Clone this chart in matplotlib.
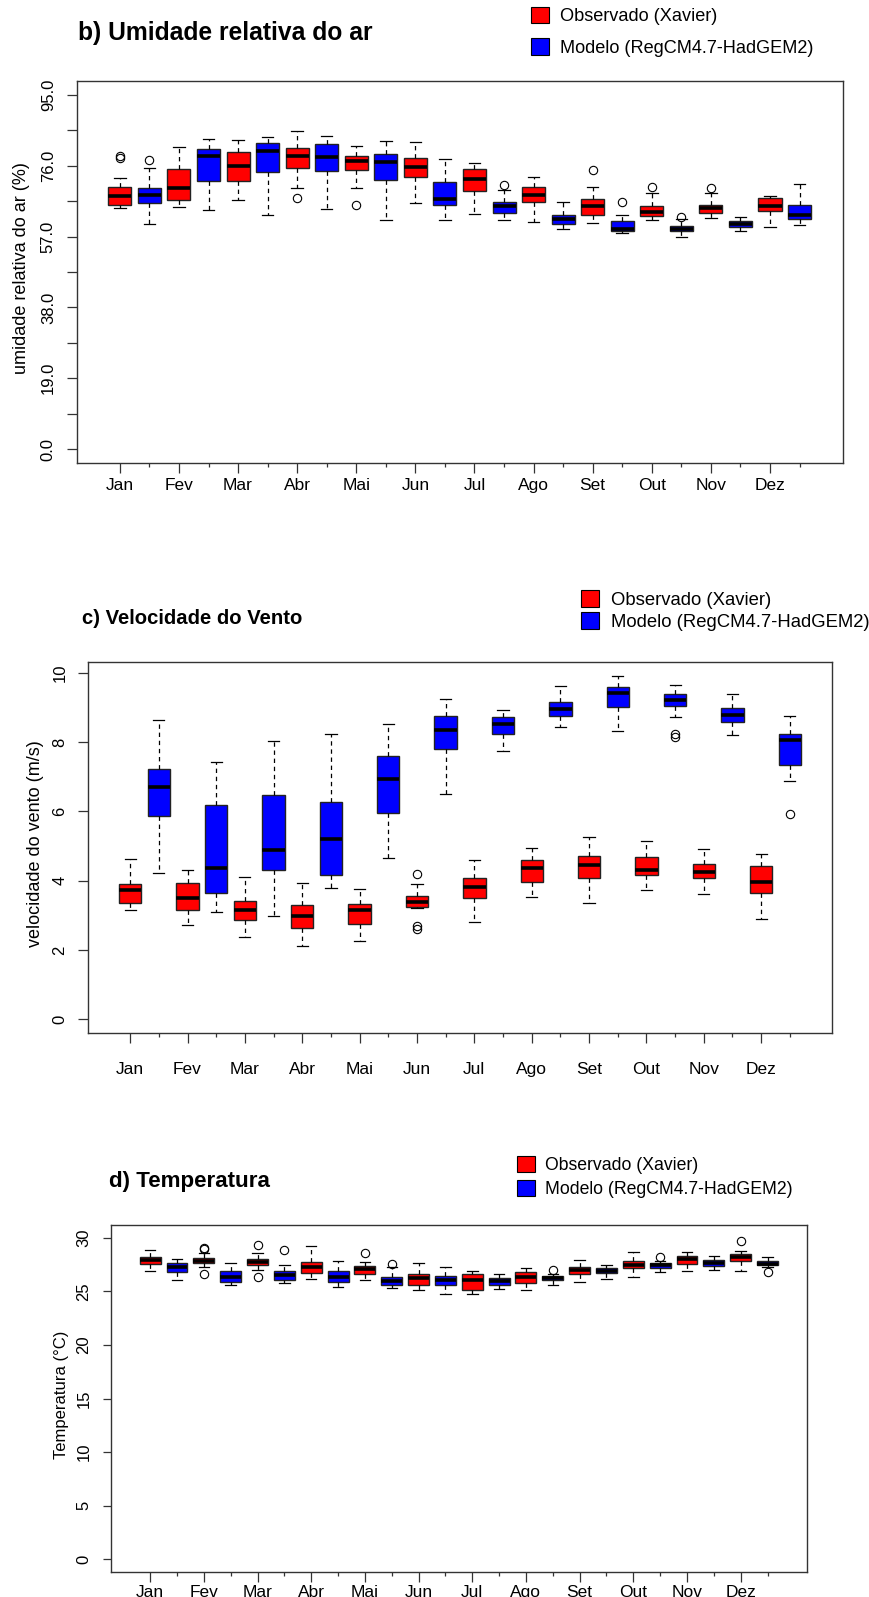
import matplotlib
matplotlib.use('Agg')
import numpy as np
import matplotlib.pyplot as plt
from matplotlib.patches import Patch

plt.rcParams['font.family'] = ['Liberation Sans', 'DejaVu Sans']

meses = ['Jan', 'Fev', 'Mar', 'Abr', 'Mai', 'Jun', 'Jul', 'Ago', 'Set', 'Out', 'Nov', 'Dez']

# (min, q1, mediana, q3, max) por mes
ur_obs = [(64.6, 65.4, 68.0, 70.4, 72.8), (64.9, 66.7, 69.9, 75.1, 80.9), (66.7, 71.8, 75.8, 79.8, 82.9),
          (69.9, 75.4, 78.5, 80.7, 85.2), (69.9, 74.9, 77.4, 78.7, 81.3), (65.9, 72.9, 75.7, 78.1, 82.3),
          (63.0, 69.2, 72.5, 75.1, 76.7), (60.8, 66.2, 68.1, 70.2, 72.9), (60.7, 62.9, 65.1, 67.1, 70.3),
          (61.5, 62.6, 63.7, 65.2, 68.7), (62.1, 63.3, 64.7, 65.6, 68.7), (59.5, 63.9, 65.3, 67.3, 67.9)]
ur_mod = [(60.4, 66.0, 68.2, 70.0, 75.4), (64.2, 71.9, 78.7, 80.4, 83.2), (62.9, 74.3, 79.9, 82.0, 83.7),
          (64.5, 74.5, 78.3, 81.9, 84.1), (61.5, 72.2, 77.0, 79.2, 82.5), (61.5, 65.4, 67.2, 71.6, 77.7),
          (61.5, 63.3, 65.1, 66.2, 69.4), (58.9, 60.4, 61.7, 62.9, 66.2), (57.9, 58.4, 59.1, 61.2, 62.8),
          (57.0, 58.4, 59.1, 59.8, 61.8), (58.4, 59.5, 60.4, 61.2, 62.2), (60.1, 61.6, 62.7, 65.5, 71.0)]
ur_obs_out = [[78.6, 78.2], [], [], [67.3], [65.6], [], [], [], [74.8], [70.4], [69.9], []]
ur_mod_out = [[77.6], [], [], [], [], [], [70.8], [], [66.2], [62.3], [], []]

vv_obs = [(3.15, 3.37, 3.72, 3.91, 4.64), (2.72, 3.16, 3.51, 3.93, 4.31), (2.37, 2.86, 3.15, 3.42, 4.10),
          (2.12, 2.64, 2.98, 3.30, 3.93), (2.26, 2.75, 3.15, 3.34, 3.75), (3.20, 3.24, 3.38, 3.56, 3.90),
          (2.82, 3.49, 3.82, 4.09, 4.59), (3.54, 3.96, 4.36, 4.60, 4.93), (3.37, 4.08, 4.44, 4.70, 5.25),
          (3.72, 4.17, 4.31, 4.68, 5.16), (3.61, 4.07, 4.24, 4.47, 4.91), (2.91, 3.64, 3.95, 4.43, 4.76)]
vv_mod = [(4.23, 5.88, 6.69, 7.21, 8.63), (3.11, 3.64, 4.38, 6.18, 7.43), (2.98, 4.32, 4.88, 6.48, 8.03),
          (3.78, 4.16, 5.19, 6.27, 8.24), (4.66, 5.96, 6.93, 7.60, 8.52), (6.49, 7.81, 8.36, 8.74, 9.23),
          (7.74, 8.24, 8.52, 8.72, 8.93), (8.44, 8.75, 8.95, 9.16, 9.61), (8.32, 9.00, 9.41, 9.59, 9.90),
          (8.73, 9.05, 9.22, 9.40, 9.65), (8.21, 8.57, 8.77, 8.98, 9.40), (6.89, 7.34, 8.07, 8.23, 8.76)]
vv_obs_out = [[], [], [], [], [], [4.20, 2.70, 2.62], [], [], [], [], [], []]
vv_mod_out = [[], [], [], [], [], [], [], [], [], [8.24, 8.15], [], [5.92]]

tp_obs = [(26.90, 27.56, 27.93, 28.20, 28.86), (27.24, 27.61, 27.86, 28.12, 28.60), (27.02, 27.43, 27.74, 27.98, 28.55),
          (26.18, 26.74, 27.30, 27.74, 29.17), (26.06, 26.62, 27.06, 27.37, 27.71), (25.07, 25.60, 26.25, 26.65, 27.61),
          (24.76, 25.13, 26.00, 26.62, 26.90), (25.07, 25.75, 26.31, 26.81, 27.21), (25.90, 26.59, 26.99, 27.30, 27.93),
          (26.37, 27.15, 27.49, 27.80, 28.61), (26.90, 27.52, 28.02, 28.30, 28.64), (26.87, 27.80, 28.17, 28.49, 28.77)]
tp_mod = [(26.00, 26.81, 27.28, 27.65, 27.98), (25.56, 25.88, 26.30, 26.86, 27.61), (25.72, 26.06, 26.49, 26.93, 27.43),
          (25.38, 25.88, 26.37, 26.93, 27.80), (25.31, 25.56, 25.93, 26.30, 27.24), (24.78, 25.56, 26.00, 26.46, 27.30),
          (25.22, 25.56, 25.93, 26.25, 26.62), (25.62, 26.00, 26.21, 26.40, 26.56), (26.15, 26.68, 26.90, 27.12, 27.43),
          (26.77, 27.18, 27.40, 27.61, 27.80), (26.96, 27.37, 27.65, 27.89, 28.30), (27.25, 27.40, 27.58, 27.77, 28.17)]
tp_obs_out = [[], [29.05, 28.95, 26.65], [29.29, 26.34], [], [28.58], [], [], [], [], [], [], [29.67]]
tp_mod_out = [[], [], [28.86], [], [27.55], [], [], [26.96], [], [28.17], [], [26.81]]

W, H = 870, 1597
fig = plt.figure(figsize=(W / 100, H / 100), dpi=100)


def eixo(left, top, right, bottom):
    return fig.add_axes([left / W, 1 - bottom / H, (right - left) / W, (bottom - top) / H])


def painel(ax, obs, mod, obs_out, mod_out, ylim, yticks, ylabels, ylabel, ylab_x, xpad, ytl):
    stats = []
    for i in range(12):
        for s, o in ((obs[i], obs_out[i]), (mod[i], mod_out[i])):
            stats.append(dict(whislo=s[0], q1=s[1], med=s[2], q3=s[3], whishi=s[4], fliers=o))
    bp = ax.bxp(stats, positions=range(1, 25), widths=0.78, patch_artist=True, capwidths=0.39,
                boxprops=dict(edgecolor='#222222', linewidth=1.0),
                medianprops=dict(color='black', linewidth=2.6, solid_capstyle='butt'),
                whiskerprops=dict(color='black', linestyle=(0, (3.5, 3)), linewidth=0.9),
                capprops=dict(color='black', linewidth=0.9),
                flierprops=dict(marker='o', markerfacecolor='none', markeredgecolor='black',
                                markersize=6, markeredgewidth=0.8))
    for k, b in enumerate(bp['boxes']):
        b.set_facecolor('#ff0000' if k % 2 == 0 else '#0000ff')
    ax.set_xlim(-0.46, 25.46)
    ax.set_ylim(*ylim)
    ax.set_xticks(range(1, 25, 2))
    ax.set_xticklabels(meses, fontsize=12.5)
    ax.set_xticks(range(2, 25, 2), minor=True)
    ax.set_yticks(yticks)
    ax.set_yticklabels(ylabels, rotation=90, va='center', fontsize=12)
    ax.tick_params(axis='x', which='major', length=7, width=0.9, pad=xpad, color='#333333')
    ax.tick_params(axis='x', which='minor', length=3, width=0.9, color='#333333')
    ax.tick_params(axis='y', length=ytl, width=0.9, pad=8, color='#333333')
    for sp in ax.spines.values():
        sp.set_color('#333333')
        sp.set_linewidth(1.0)
    ax.set_ylabel(ylabel, fontsize=13)
    ax.yaxis.label.set_verticalalignment('center')
    ax.yaxis.set_label_coords(ylab_x, 0.51)


def titulo(x, y, texto, size):
    fig.text(x / W, 1 - y / H, texto, fontsize=size, fontweight='bold', ha='left', va='center')


def legenda(x, y, size, esp):
    h = [Patch(facecolor='#ff0000', edgecolor='black', linewidth=0.8),
         Patch(facecolor='#0000ff', edgecolor='black', linewidth=0.8)]
    fig.legend(h, ['Observado (Xavier)', 'Modelo (RegCM4.7-HadGEM2)'], loc='upper left',
               bbox_to_anchor=(x / W, 1 - y / H), frameon=False, fontsize=size,
               handlelength=1.0, handleheight=1.0, handletextpad=0.6, labelspacing=esp,
               borderpad=0, borderaxespad=0)


# b) umidade relativa
ax1 = eixo(76.7, 80.7, 842.7, 463.3)
ur_ticks = np.arange(0, 95.1, 9.5)
ur_labs = ['%.1f' % t if i % 2 == 0 else '' for i, t in enumerate(ur_ticks)]
painel(ax1, ur_obs, ur_mod, ur_obs_out, ur_mod_out, (-3.8, 98.8), ur_ticks, ur_labs,
       'umidade relativa do ar (%)', -0.072, 3.5, 7)
titulo(78, 33, 'b) Umidade relativa do ar', 17.7)
legenda(531, 7, 13.1, 0.72)

# c) velocidade do vento
ax2 = eixo(88.3, 662.3, 831.7, 1033.3)
vv_ticks = [0, 2, 4, 6, 8, 10]
painel(ax2, vv_obs, vv_mod, vv_obs_out, vv_mod_out, (-0.4, 10.3), vv_ticks, [str(t) for t in vv_ticks],
       'velocidade do vento (m/s)', -0.071, 14, 7)
titulo(82, 619, 'c) Velocidade do Vento', 14.6)
legenda(581, 590, 13.3, 0.2)

# d) temperatura
ax3 = eixo(111, 1224.7, 806.7, 1572.3)
tp_ticks = [0, 5, 10, 15, 20, 25, 30]
painel(ax3, tp_obs, tp_mod, tp_obs_out, tp_mod_out, (-1.2, 31.2), tp_ticks, [str(t) for t in tp_ticks],
       'Temperatura (°C)', -0.071, 2, 6)
ax3.yaxis.label.set_fontsize(12)
titulo(109, 1181, 'd) Temperatura', 16.1)
legenda(517, 1156, 12.7, 0.35)

fig.savefig('out.png', dpi=100)
